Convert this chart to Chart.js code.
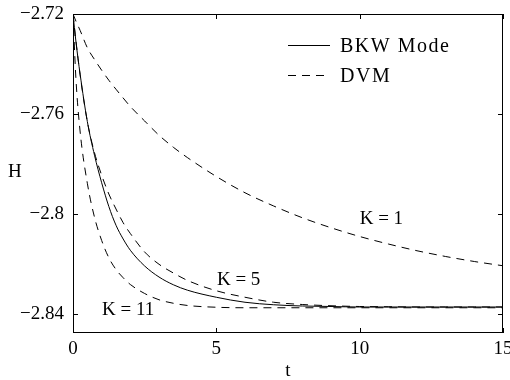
<!DOCTYPE html>
<html>
<head>
<meta charset="utf-8">
<script src="https://cdn.jsdelivr.net/npm/chart.js@4.4.0/dist/chart.umd.min.js"></script>
<style>
  html, body { margin: 0; padding: 0; background: #fff; }
  #wrap { width: 510px; height: 380px; }
</style>
</head>
<body>
<div id="wrap"><canvas id="myChart"></canvas></div>
<script>
// values
const tValues = [0, 0.1, 0.25, 0.5, 0.75, 1, 1.25, 1.5, 1.75, 2, 2.5, 3, 3.5, 4, 5, 6, 7, 8, 9, 10, 11, 12, 13, 14, 15];
const bkwMode = [-2.72, -2.7308, -2.7442, -2.763, -2.7765, -2.7875, -2.797, -2.8045, -2.81, -2.8145, -2.8208, -2.8252, -2.8283, -2.8305, -2.8333, -2.8353, -2.8363, -2.8368, -2.837, -2.8372, -2.8372, -2.8372, -2.8372, -2.8372, -2.8372];
const dvmK1 = [-2.72, -2.7228, -2.7266, -2.7335, -2.7382, -2.7425, -2.7465, -2.7501, -2.7536, -2.757, -2.7628, -2.7685, -2.7733, -2.7775, -2.785, -2.7915, -2.7968, -2.8015, -2.8055, -2.809, -2.812, -2.8147, -2.817, -2.819, -2.8207];
const dvmK5 = [-2.72, -2.7305, -2.7445, -2.763, -2.7755, -2.7845, -2.792, -2.798, -2.8035, -2.8078, -2.8152, -2.8201, -2.8236, -2.8266, -2.8307, -2.8333, -2.8353, -2.8362, -2.8367, -2.837, -2.8371, -2.8372, -2.8372, -2.8372, -2.8372];
const dvmK11 = [-2.72, -2.7455, -2.7672, -2.7877, -2.8013, -2.8106, -2.8175, -2.8222, -2.8255, -2.8282, -2.8318, -2.8343, -2.8357, -2.8366, -2.8373, -2.8375, -2.8375, -2.8375, -2.8375, -2.8375, -2.8375, -2.8375, -2.8375, -2.8375, -2.8375];
const xTicks = [0, 5, 10, 15];
const yTicks = [-2.84, -2.8, -2.76, -2.72];
const legendNames = ['BKW Mode', 'DVM'];
const curveNames = ['K = 1', 'K = 5', 'K = 11'];

Chart.defaults.font.family = "'Liberation Serif', 'Times New Roman', serif";
Chart.defaults.font.size = 19;
Chart.defaults.color = '#000';

function pts(vals) {
    return tValues.map((t, i) => ({ x: t, y: vals[i] }));
}

const dash = [8, 6];

// box, inward ticks, legend and curve notes
const frameAndNotes = {
    id: 'frameAndNotes',
    afterDraw(chart) {
        const { ctx, chartArea: a, scales: { x, y } } = chart;
        ctx.save();
        ctx.strokeStyle = '#000';
        ctx.lineWidth = 1;
        ctx.setLineDash([]);
        ctx.strokeRect(a.left + 0.5, a.top + 0.5, a.right - a.left - 1, a.bottom - a.top - 1);

        ctx.beginPath();
        xTicks.forEach(v => {
            const px = Math.round(x.getPixelForValue(v)) + 0.5;
            ctx.moveTo(px, a.bottom); ctx.lineTo(px, a.bottom - 5);
            ctx.moveTo(px, a.top); ctx.lineTo(px, a.top + 5);
        });
        yTicks.forEach(v => {
            const py = Math.round(y.getPixelForValue(v)) + 0.5;
            ctx.moveTo(a.left, py); ctx.lineTo(a.left + 5, py);
            ctx.moveTo(a.right, py); ctx.lineTo(a.right - 5, py);
        });
        ctx.stroke();

        // legend (no frame)
        ctx.font = "20px 'Liberation Serif', serif";
        ctx.fillStyle = '#000';
        ctx.textBaseline = 'middle';
        ctx.textAlign = 'left';
        ctx.letterSpacing = '1.5px';
        const lx = a.right - 215, rows = [a.top + 31.5, a.top + 61.5];
        legendNames.forEach((name, i) => {
            ctx.beginPath();
            ctx.setLineDash(i === 0 ? [] : dash);
            ctx.moveTo(lx, rows[i]); ctx.lineTo(lx + 42, rows[i]);
            ctx.stroke();
            ctx.fillText(name, lx + 52, rows[i] + 1);
        });
        ctx.letterSpacing = '0px';

        // curve notes and y title
        ctx.font = "19px 'Liberation Serif', serif";
        ctx.textBaseline = 'alphabetic';
        const notePos = [[10.0, -2.8038], [5.02, -2.8284], [1.01, -2.8404]];
        curveNames.forEach((s, i) => {
            ctx.fillText(s, x.getPixelForValue(notePos[i][0]), y.getPixelForValue(notePos[i][1]));
        });
        ctx.fillText('H', 8, 177);
        ctx.restore();
    }
};

const common = { borderColor: '#000', borderWidth: 1, pointRadius: 0, cubicInterpolationMode: 'monotone', fill: false };

new Chart(document.getElementById('myChart'), {
    type: 'line',
    data: {
        datasets: [
            { ...common, label: legendNames[0], data: pts(bkwMode) },
            { ...common, label: curveNames[0], data: pts(dvmK1), borderDash: dash },
            { ...common, label: curveNames[1], data: pts(dvmK5), borderDash: dash },
            { ...common, label: curveNames[2], data: pts(dvmK11), borderDash: dash }
        ]
    },
    options: {
        responsive: true,
        maintainAspectRatio: false,
        animation: false,
        devicePixelRatio: 1,
        layout: { padding: { top: 14, right: 7, bottom: 0, left: 0 } },
        plugins: { legend: { display: false }, tooltip: { enabled: false } },
        scales: {
            x: {
                type: 'linear',
                min: 0,
                max: 15,
                afterBuildTicks: s => { s.ticks = xTicks.map(v => ({ value: v })); },
                afterFit: s => { s.height = 47; s.paddingLeft = 0; s.paddingRight = 0; },
                grid: { display: false, drawTicks: false },
                border: { display: false },
                ticks: { padding: 5, maxRotation: 0, color: '#000' },
                title: { display: true, text: 't', color: '#000', padding: { top: 0, bottom: -2 } }
            },
            y: {
                type: 'linear',
                min: -2.8476,
                max: -2.72,
                afterBuildTicks: s => { s.ticks = yTicks.map(v => ({ value: v })); },
                afterFit: s => { s.width = 73; s.paddingTop = 0; s.paddingBottom = 0; },
                grid: { display: false, drawTicks: false },
                border: { display: false },
                ticks: { padding: 9, color: '#000', callback: v => '\u2212' + Math.abs(v) }
            }
        }
    },
    plugins: [frameAndNotes]
});
</script>
</body>
</html>
